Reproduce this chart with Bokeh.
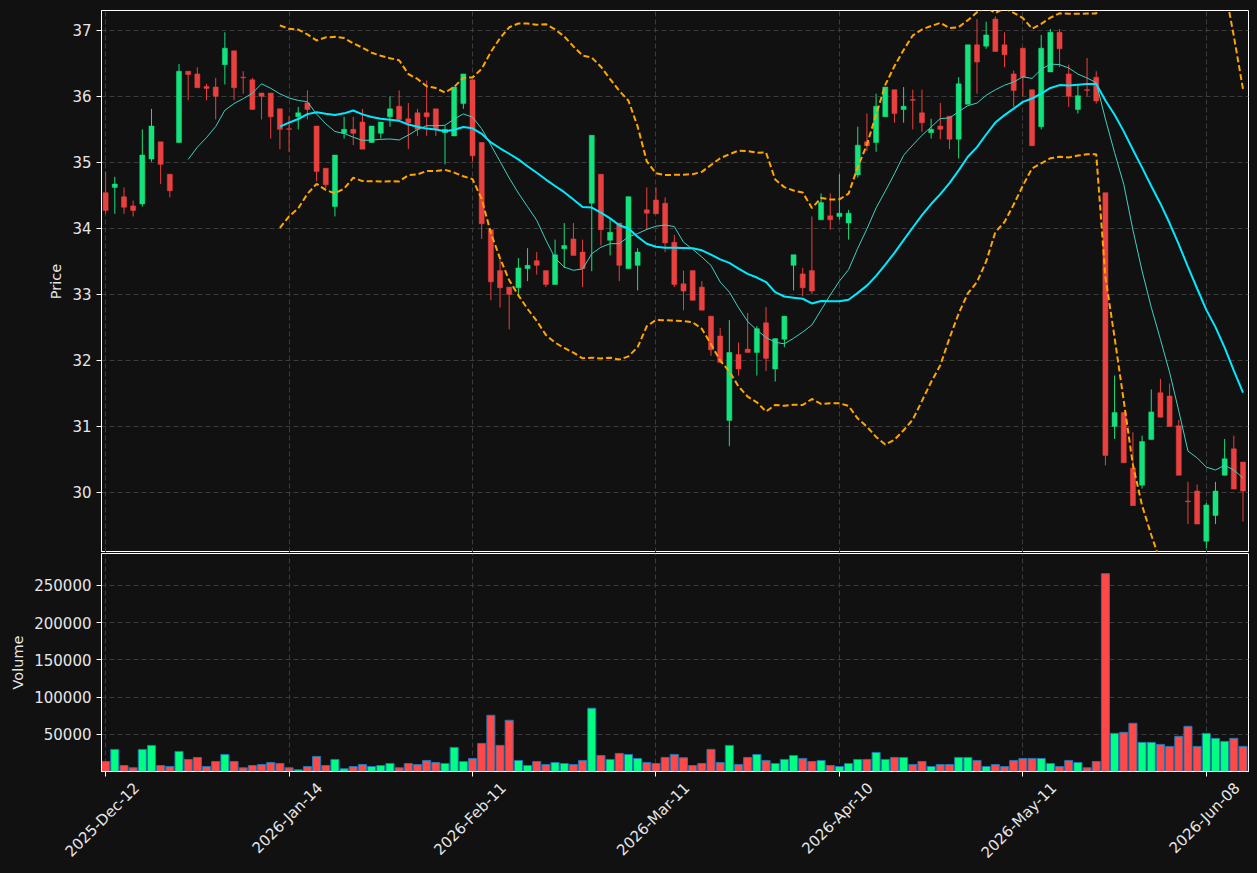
import math
import numpy as np
from bokeh.plotting import figure
from bokeh.layouts import column
from bokeh.models import (Range1d, FixedTicker, NumeralTickFormatter, ColumnDataSource,
                          LinearAxis)
from bokeh.embed import file_html
from bokeh.resources import INLINE

# ---------------- data ----------------
opens = [34.54, 34.62, 34.48, 34.34, 34.37, 35.05, 35.31, 34.82, 35.30, 36.38,
         36.34, 36.15, 36.14, 36.48, 36.69, 36.29, 36.25, 36.05, 36.05, 35.81,
         35.51, 35.69, 35.90, 35.55, 34.91, 34.33, 35.44, 35.50, 35.61, 35.30,
         35.44, 35.69, 35.85, 35.66, 35.75, 35.75, 35.81, 35.45, 35.40, 35.89,
         36.25, 35.30, 33.98, 33.36, 33.11, 33.10, 33.39, 33.51, 33.36, 33.15,
         33.69, 33.84, 33.64, 34.38, 34.82, 33.82, 34.08, 33.39, 33.44, 34.28,
         34.43, 34.38, 33.79, 33.16, 33.36, 33.11, 32.67, 32.37, 31.09, 32.09,
         32.17, 32.12, 32.57, 31.87, 32.32, 33.44, 33.31, 33.36, 34.13, 34.19,
         34.18, 34.08, 34.81, 35.31, 35.30, 35.69, 36.10, 35.80, 35.95, 35.75,
         35.45, 35.55, 35.70, 35.35, 35.88, 36.78, 36.76, 37.17, 36.78, 36.34,
         36.73, 36.10, 35.54, 36.37, 36.97, 36.34, 35.80, 36.10, 36.29, 34.54,
         31.00, 31.21, 30.37, 30.11, 30.80, 31.51, 31.46, 31.01, 29.87, 30.02,
         29.26, 29.65, 30.26, 30.66, 30.46]
highs = [34.86, 34.78, 34.62, 34.42, 35.50, 35.81, 35.31, 34.82, 36.49, 36.38,
         36.44, 36.19, 36.28, 36.97, 36.69, 36.38, 36.28, 36.05, 36.05, 35.81,
         35.70, 35.84, 36.09, 35.55, 34.91, 35.11, 35.69, 35.69, 35.81, 35.55,
         35.61, 36.00, 36.09, 35.90, 35.81, 36.24, 35.81, 35.55, 36.14, 36.34,
         36.25, 35.30, 33.98, 33.53, 33.11, 33.55, 33.70, 33.64, 33.36, 33.83,
         34.08, 34.08, 33.83, 35.41, 34.82, 34.14, 34.08, 34.48, 33.70, 34.62,
         34.62, 34.47, 33.90, 33.36, 33.36, 33.20, 32.67, 32.49, 32.61, 32.27,
         32.72, 32.52, 32.81, 32.33, 32.67, 33.60, 33.40, 34.18, 34.53, 34.53,
         34.82, 34.28, 35.54, 35.74, 36.04, 36.14, 36.10, 36.14, 36.10, 36.10,
         35.66, 35.90, 35.70, 36.29, 36.78, 37.17, 37.13, 37.21, 36.97, 36.39,
         36.73, 36.10, 36.93, 37.02, 37.02, 36.48, 36.17, 36.58, 36.38, 34.54,
         31.77, 31.21, 30.91, 30.86, 31.56, 31.72, 31.65, 31.10, 30.16, 30.12,
         29.84, 30.16, 30.81, 30.86, 30.46]
lows = [34.22, 34.22, 34.22, 34.18, 34.33, 35.01, 34.67, 34.47, 35.30, 35.94,
        36.13, 35.94, 35.65, 36.18, 35.94, 36.04, 35.80, 35.65, 35.36, 35.20,
        35.16, 35.50, 35.65, 34.71, 34.61, 34.18, 35.36, 35.26, 35.20, 35.30,
        35.36, 35.54, 35.65, 35.20, 35.40, 35.40, 35.40, 34.97, 35.40, 35.81,
        35.01, 33.84, 32.91, 32.80, 32.47, 32.97, 33.20, 33.30, 33.11, 33.15,
        33.40, 33.59, 33.11, 33.35, 33.74, 33.59, 33.20, 33.39, 33.06, 33.98,
        34.22, 33.64, 33.11, 32.76, 32.91, 32.76, 32.07, 31.97, 30.70, 31.77,
        32.12, 31.77, 31.84, 31.68, 32.20, 33.06, 32.97, 33.00, 34.13, 33.98,
        34.13, 33.83, 34.77, 35.17, 35.16, 35.69, 35.60, 35.60, 35.50, 35.46,
        35.36, 35.35, 35.20, 35.06, 35.88, 36.04, 36.72, 36.68, 36.44, 35.84,
        36.00, 35.25, 35.50, 36.37, 36.44, 35.84, 35.74, 36.00, 35.89, 30.41,
        30.81, 30.45, 29.80, 30.06, 30.80, 31.14, 31.00, 30.26, 29.52, 29.52,
        29.15, 29.52, 30.26, 30.05, 29.56]
closes = [34.27, 34.67, 34.32, 34.27, 35.11, 35.55, 34.97, 34.57, 36.38, 36.33,
          36.13, 36.12, 36.00, 36.73, 36.13, 36.28, 35.80, 36.00, 35.69, 35.50,
          35.50, 35.75, 35.80, 34.86, 34.66, 35.11, 35.50, 35.44, 35.20, 35.55,
          35.61, 35.81, 35.65, 35.60, 35.50, 35.69, 35.50, 35.50, 36.14, 36.34,
          35.10, 34.07, 33.19, 33.10, 33.00, 33.40, 33.44, 33.44, 33.15, 33.60,
          33.74, 33.59, 33.39, 35.41, 33.98, 33.94, 33.44, 34.48, 33.64, 34.23,
          34.22, 33.78, 33.15, 33.05, 32.91, 32.76, 32.16, 31.97, 32.12, 31.87,
          32.12, 32.48, 32.03, 32.33, 32.67, 33.60, 33.10, 33.05, 34.39, 34.13,
          34.23, 34.23, 35.26, 35.25, 35.85, 36.14, 35.74, 35.85, 35.94, 35.60,
          35.50, 35.50, 35.35, 36.19, 36.78, 36.52, 36.93, 36.68, 36.63, 36.09,
          36.29, 35.25, 36.73, 36.97, 36.72, 36.00, 36.01, 36.09, 35.93, 30.56,
          31.21, 30.45, 29.80, 30.77, 31.22, 31.14, 31.00, 30.26, 29.86, 29.52,
          29.81, 30.02, 30.51, 30.05, 30.02]
volumes = [13500, 29700, 8100, 4950, 29700, 35100, 8100, 6750, 27000, 16200,
           18900, 6750, 13500, 22950, 13500, 4950, 8100, 9450, 12150, 10800,
           4950, 2250, 6750, 20250, 8100, 16200, 3600, 6750, 9450, 6750,
           8100, 10800, 4950, 10800, 9450, 14850, 12150, 10800, 32400, 13500,
           17550, 37800, 75600, 35100, 68850, 14850, 8100, 13500, 9450, 12150,
           10800, 9450, 14850, 85050, 21600, 16200, 24300, 22950, 17550, 12150,
           10800, 18900, 22950, 18450, 8100, 10800, 29700, 12150, 35100, 9450,
           18900, 22950, 14850, 10800, 16200, 21600, 17550, 13500, 14850, 8100,
           6750, 10800, 16200, 16200, 25650, 16200, 18900, 18900, 9450, 13500,
           6750, 9450, 9450, 18900, 18900, 14850, 6750, 9450, 6750, 14850,
           17550, 17550, 17550, 10800, 6750, 14850, 12150, 4950, 13500, 265950,
           51300, 52650, 64800, 39150, 39150, 36450, 33750, 47250, 60750, 33750,
           51300, 44550, 40500, 44550, 33750]
tick_positions = [0, 20, 40, 60, 80, 100, 120]
tick_labels = ["2025-Dec-12", "2026-Jan-14", "2026-Feb-11", "2026-Mar-11",
               "2026-Apr-10", "2026-May-11", "2026-Jun-08"]

# ---------------- derived ----------------
n = len(closes)
x = np.arange(n)
o = np.array(opens); c = np.array(closes); h = np.array(highs); l = np.array(lows)
up = c >= o
BG = "#111111"
CUP, CDN = "#14e27c", "#e8413f"
VUP, VDN = "#00ff80", "#ff4848"
cand_col = [CUP if u else CDN for u in up]
vol_col = [VUP if u else VDN for u in up]

def rolling_mean(a, w):
    out = np.full(len(a), np.nan)
    for i in range(w - 1, len(a)):
        out[i] = a[i - w + 1:i + 1].mean()
    return out

def rolling_std(a, w):
    out = np.full(len(a), np.nan)
    for i in range(w - 1, len(a)):
        out[i] = a[i - w + 1:i + 1].std()
    return out

ma10 = rolling_mean(c, 10)
ma20 = rolling_mean(c, 20)
sd20 = rolling_std(c, 20)
upper = ma20 + 2 * sd20
lower = ma20 - 2 * sd20

src = ColumnDataSource(dict(x=x, o=o, c=c, h=h, l=l,
                            top=np.maximum(o, c), bot=np.minimum(o, c),
                            col=cand_col, vcol=vol_col, v=volumes))

X0, X1 = -0.45, 124.6
xr = Range1d(X0, X1)
FONT = "DejaVu Sans"
TXT = "#e6e6e6"
GRID = "#3c3c3c"
VOL_TOP = 293000


def style_axis(ax):
    ax.axis_line_color = "white"
    ax.major_tick_line_color = "white"
    ax.minor_tick_line_color = None
    ax.major_tick_out = 5
    ax.major_tick_in = 0
    ax.major_label_text_color = TXT
    ax.major_label_text_font = FONT
    ax.major_label_text_font_size = "15px"
    ax.axis_label_text_color = TXT
    ax.axis_label_text_font = FONT
    ax.axis_label_text_font_size = "14.5px"
    ax.axis_label_text_font_style = "normal"


def style(p):
    p.background_fill_color = BG
    p.border_fill_color = BG
    p.outline_line_color = "white"
    p.outline_line_width = 1
    for ax in p.yaxis + p.xaxis:
        style_axis(ax)
    for g in p.xgrid + p.ygrid:
        g.grid_line_color = GRID
        g.grid_line_dash = "5 3"
        g.grid_line_width = 1


p1 = figure(width=1257, height=552, x_range=xr, y_range=Range1d(29.09, 37.30),
            output_backend="svg", toolbar_location=None,
            min_border_left=101, min_border_right=9, min_border_top=10,
            min_border_bottom=0)
p1.segment(x0="x", y0="l", x1="x", y1="h", color="col", line_width=1, source=src)
p1.vbar(x="x", width=0.55, top="top", bottom="bot", fill_color="col",
        line_color="col", line_width=0.5, source=src)
p1.line(x, ma10, color="#40d0c0", line_width=1)
p1.line(x, ma20, color="#00eaff", line_width=2)
p1.line(x, upper, color="#ffa500", line_width=2, line_dash="6 3")
p1.line(x, lower, color="#ffa500", line_width=2, line_dash="6 3")
p1.yaxis.axis_label = "Price"
p1.yaxis.ticker = FixedTicker(ticks=[30, 31, 32, 33, 34, 35, 36, 37])
p1.xaxis.visible = False
p1.xgrid.ticker = FixedTicker(ticks=tick_positions)
style(p1)

p2 = figure(width=1257, height=321, x_range=xr, y_range=Range1d(0, VOL_TOP),
            output_backend="svg", toolbar_location=None,
            min_border_left=101, min_border_right=9, min_border_top=1,
            min_border_bottom=102)
p2.vbar(x="x", width=0.88, top="v", bottom=0, fill_color="vcol",
        line_color="#1f77b4", line_width=1, source=src)
p2.yaxis.axis_label = "Volume"
p2.yaxis.ticker = FixedTicker(ticks=[50000, 100000, 150000, 200000, 250000])
p2.yaxis.formatter = NumeralTickFormatter(format="0")
p2.xaxis.ticker = FixedTicker(ticks=tick_positions)
p2.xaxis.major_label_overrides = {pos: "" for pos in tick_positions}
style(p2)
p2.xaxis.major_label_text_font_size = "1px"
p2.xaxis.major_label_standoff = 0

# label axis on a shifted range so rotated labels are centred under ticks
shift = 31.0 / (1147.0 / (X1 - X0))
p2.extra_x_ranges = {"lab": Range1d(X0 - shift, X1 - shift)}
lab_axis = LinearAxis(x_range_name="lab", ticker=FixedTicker(ticks=tick_positions),
                      major_label_overrides={pos: lab for pos, lab in zip(tick_positions, tick_labels)},
                      major_label_orientation=math.pi / 4)
style_axis(lab_axis)
lab_axis.axis_line_color = None
lab_axis.major_tick_line_color = None
lab_axis.major_tick_out = 0
lab_axis.major_label_standoff = 9
p2.add_layout(lab_axis, "below")

layout = column(p1, p2, spacing=0)
html = file_html(layout, INLINE)
html = html.replace("<body>", "<body style=\"margin:0;background:#111111\">")
open("out.html", "w").write(html)
